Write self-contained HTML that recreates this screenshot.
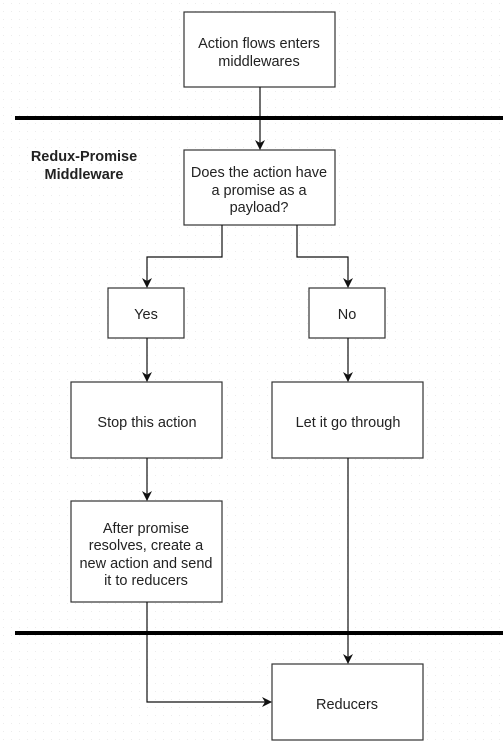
<!DOCTYPE html>
<html><head><style>
html,body{margin:0;padding:0;background:#fff;}
svg{display:block;}
text{font-family:"Liberation Sans",sans-serif;font-size:14.5px;fill:#222;text-anchor:middle;}
</style></head><body>
<svg width="503" height="741" viewBox="0 0 503 741" xmlns="http://www.w3.org/2000/svg">
<defs>
<pattern id="dots" width="8" height="8" patternUnits="userSpaceOnUse"><rect x="3" y="3" width="1" height="1" fill="#ececec"/></pattern>
<marker id="ah" markerWidth="10" markerHeight="10" refX="9" refY="5" orient="auto" markerUnits="userSpaceOnUse"><path d="M0,0 L10,5 L0,10 L3,5 Z" fill="#111"/></marker>
</defs>
<rect width="503" height="741" fill="url(#dots)"/>
<g fill="#fff" stroke="#333" stroke-width="1.2">
<rect x="184" y="12" width="151" height="75"/>
<rect x="184" y="150" width="151" height="75"/>
<rect x="108" y="288" width="76" height="50"/>
<rect x="309" y="288" width="76" height="50"/>
<rect x="71" y="382" width="151" height="76"/>
<rect x="272" y="382" width="151" height="76"/>
<rect x="71" y="501" width="151" height="101"/>
<rect x="272" y="664" width="151" height="76"/>
</g>
<g stroke="#111" stroke-width="1.2" fill="none">
<path d="M260,87 V149" marker-end="url(#ah)"/>
<path d="M222,225 V257 H147 V287" marker-end="url(#ah)"/>
<path d="M297,225 V257 H348 V287" marker-end="url(#ah)"/>
<path d="M147,338 V381" marker-end="url(#ah)"/>
<path d="M348,338 V381" marker-end="url(#ah)"/>
<path d="M147,458 V500" marker-end="url(#ah)"/>
<path d="M348,458 V663" marker-end="url(#ah)"/>
<path d="M147,602 V702 H271" marker-end="url(#ah)"/>
</g>
<rect x="15" y="116" width="488" height="4" fill="#000"/>
<rect x="15" y="631" width="488" height="4" fill="#000"/>
<text x="259" y="48">Action flows enters</text>
<text x="259" y="66">middlewares</text>
<text x="259" y="177">Does the action have</text>
<text x="259" y="195">a promise as a</text>
<text x="259" y="212">payload?</text>
<text x="146" y="319">Yes</text>
<text x="347" y="319">No</text>
<text x="147" y="427">Stop this action</text>
<text x="348" y="427">Let it go through</text>
<text x="146" y="533">After promise</text>
<text x="146" y="550">resolves, create a</text>
<text x="146" y="568">new action and send</text>
<text x="146" y="585">it to reducers</text>
<text x="347" y="709">Reducers</text>
<text x="84" y="161" style="font-weight:bold">Redux-Promise</text>
<text x="84" y="179" style="font-weight:bold">Middleware</text>
</svg>
</body></html>
